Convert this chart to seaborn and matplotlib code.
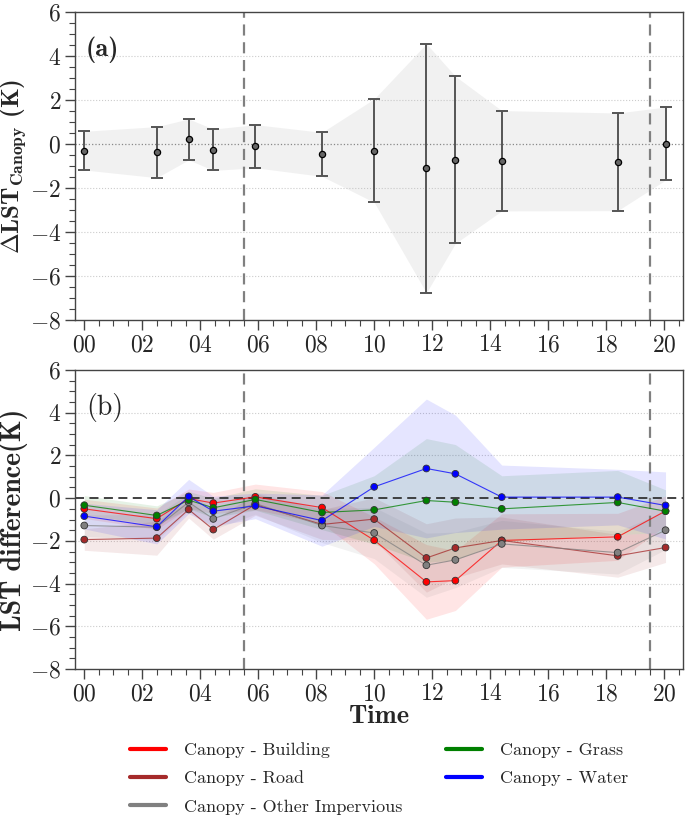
import numpy as np
import pandas as pd
import matplotlib.pyplot as plt
import seaborn as sns
from matplotlib.lines import Line2D
from matplotlib.ticker import MultipleLocator, FuncFormatter

# overpass times (hour of day)
times = [0.0, 2.5, 3.6, 4.45, 5.9, 8.2, 10.0, 11.8, 12.8, 14.4, 18.4, 20.05]

# (a) canopy LST anomaly, mean and std
canopy_mean = [-0.30, -0.37, 0.21, -0.26, -0.10, -0.47, -0.30, -1.10, -0.72, -0.76, -0.81, 0.02]
canopy_std = [0.88, 1.16, 0.93, 0.94, 0.98, 1.00, 2.35, 5.66, 3.80, 2.28, 2.22, 1.66]

# (b) canopy minus each land cover, mean and std
building_mean = [-0.50, -0.96, -0.02, -0.23, 0.06, -0.44, -1.97, -3.92, -3.86, -1.98, -1.81, -0.60]
building_std = [0.45, 0.50, 0.45, 0.50, 0.60, 0.75, 1.10, 1.75, 1.40, 1.25, 1.10, 0.70]
road_mean = [-1.94, -1.87, -0.53, -1.47, -0.30, -1.23, -0.98, -2.80, -2.33, -1.98, -2.70, -2.31]
road_std = [0.50, 0.80, 0.40, 0.45, 0.50, 0.70, 1.00, 1.60, 1.40, 1.10, 1.00, 0.70]
impervious_mean = [-1.28, -1.36, -0.19, -0.97, -0.25, -1.28, -1.63, -3.14, -2.89, -2.14, -2.55, -1.50]
impervious_std = [0.50, 0.60, 0.40, 0.50, 0.50, 0.80, 1.20, 1.50, 1.30, 1.10, 1.00, 0.90]
grass_mean = [-0.33, -0.81, -0.09, -0.45, -0.06, -0.67, -0.55, -0.11, -0.19, -0.50, -0.20, -0.61]
grass_std = [0.45, 0.45, 0.40, 0.45, 0.50, 0.80, 1.60, 2.90, 2.70, 1.55, 1.50, 1.00]
water_mean = [-0.84, -1.34, 0.08, -0.61, -0.36, -1.05, 0.53, 1.39, 1.14, 0.05, 0.05, -0.34]
water_std = [0.60, 0.80, 0.80, 0.70, 0.60, 1.20, 1.85, 3.25, 2.75, 1.50, 1.30, 1.57]

labels = ['Canopy - Building', 'Canopy - Road', 'Canopy - Other Impervious',
          'Canopy - Grass', 'Canopy - Water']
colors = ['red', 'brown', 'gray', 'green', 'blue']
means = [building_mean, road_mean, impervious_mean, grass_mean, water_mean]
stds = [building_std, road_std, impervious_std, grass_std, water_std]

sns.set_theme(style='ticks')
plt.rcParams['font.family'] = ['cmr10', 'DejaVu Serif']
plt.rcParams['mathtext.fontset'] = 'cm'
plt.rcParams['axes.unicode_minus'] = False

fig = plt.figure(figsize=(6.85, 8.17), dpi=100)
ax1 = fig.add_axes([0.1095, 0.6083, 0.8875, 0.3770])
ax2 = fig.add_axes([0.1095, 0.1811, 0.8875, 0.3660])

df_a = pd.DataFrame({'time': times, 'mean': canopy_mean, 'std': canopy_std})

# panel (a)
ax1.fill_between(df_a['time'], df_a['mean'] - df_a['std'], df_a['mean'] + df_a['std'],
                 color='#bbbbbb', alpha=0.2, lw=0)
ax1.axhline(0, color='#888888', ls=':', lw=0.9, zorder=1)
ax1.errorbar(df_a['time'], df_a['mean'], yerr=df_a['std'], fmt='none',
             ecolor='#555555', elinewidth=1.4, capsize=4, capthick=1.4, zorder=3)
sns.scatterplot(data=df_a, x='time', y='mean', ax=ax1, color='#666666',
                edgecolor='black', linewidth=0.9, s=20, zorder=4)

# panel (b)
rows = []
for lab, m in zip(labels, means):
    for t, v in zip(times, m):
        rows.append({'time': t, 'diff': v, 'pair': lab})
df_b = pd.DataFrame(rows)

for lab, col, m, s in zip(labels, colors, means, stds):
    m = np.array(m)
    s = np.array(s)
    ax2.fill_between(times, m - s, m + s, color=col, alpha=0.1, lw=0)

sns.lineplot(data=df_b, x='time', y='diff', hue='pair', hue_order=labels,
             palette=dict(zip(labels, colors)), ax=ax2, lw=0.8, alpha=0.75,
             legend=False, zorder=3)
sns.scatterplot(data=df_b, x='time', y='diff', hue='pair', hue_order=labels,
                palette=dict(zip(labels, colors)), ax=ax2, s=24,
                edgecolor='#333333', linewidth=0.6, legend=False, zorder=4)
ax2.axhline(0, color='#333333', ls=(0, (5, 3)), lw=1.3, zorder=2)

for ax in (ax1, ax2):
    ax.set_xlim(-0.32, 20.65)
    ax.set_ylim(-8, 6)
    ax.axvline(5.5, color='#808080', ls=(0, (5, 3)), lw=1.6, zorder=2)
    ax.axvline(19.5, color='#808080', ls=(0, (5, 3)), lw=1.6, zorder=2)
    ax.xaxis.set_major_locator(MultipleLocator(2))
    ax.xaxis.set_minor_locator(MultipleLocator(0.5))
    ax.yaxis.set_major_locator(MultipleLocator(2))
    ax.yaxis.set_minor_locator(MultipleLocator(0.5))
    ax.xaxis.set_major_formatter(FuncFormatter(lambda v, p: '$%02d$' % int(round(v))))
    ax.yaxis.set_major_formatter(FuncFormatter(lambda v, p: '$%d$' % int(round(v))))
    ax.tick_params(which='major', length=7, width=1, color='#444444', labelsize=17, pad=3)
    ax.tick_params(which='minor', length=4, width=0.8, color='#444444')
    for sp in ax.spines.values():
        sp.set_color('#444444')
        sp.set_linewidth(1)
    for yv in [-6, -4, -2, 2, 4]:
        ax.axhline(yv, color='#cccccc', ls=':', lw=0.8, zorder=0)
    ax.set_xlabel('')

ax1.set_ylabel(r'$\mathbf{\Delta LST}_{\mathbf{Canopy}}$ (K)', family='cmb10',
               fontsize=18, labelpad=1)
ax2.set_ylabel('LST difference(K)', family='cmb10', fontsize=20, labelpad=1)
ax2.set_xlabel('Time', family='cmb10', fontsize=19, labelpad=0)
ax1.text(0.018, 0.877, '(a)', transform=ax1.transAxes, family='cmb10', fontsize=19,
         va='center')
ax2.text(0.018, 0.876, '(b)', transform=ax2.transAxes, fontsize=20, va='center')

handles = [Line2D([0], [0], color=c, lw=3) for c in colors]
fig.legend(handles, labels, loc='lower center', bbox_to_anchor=(0.553, -0.017), ncol=2,
           frameon=False, fontsize=13, handlelength=2.0, labelspacing=0.7,
           columnspacing=2.4, handletextpad=1.0)

fig.savefig('out.png', dpi=100)
